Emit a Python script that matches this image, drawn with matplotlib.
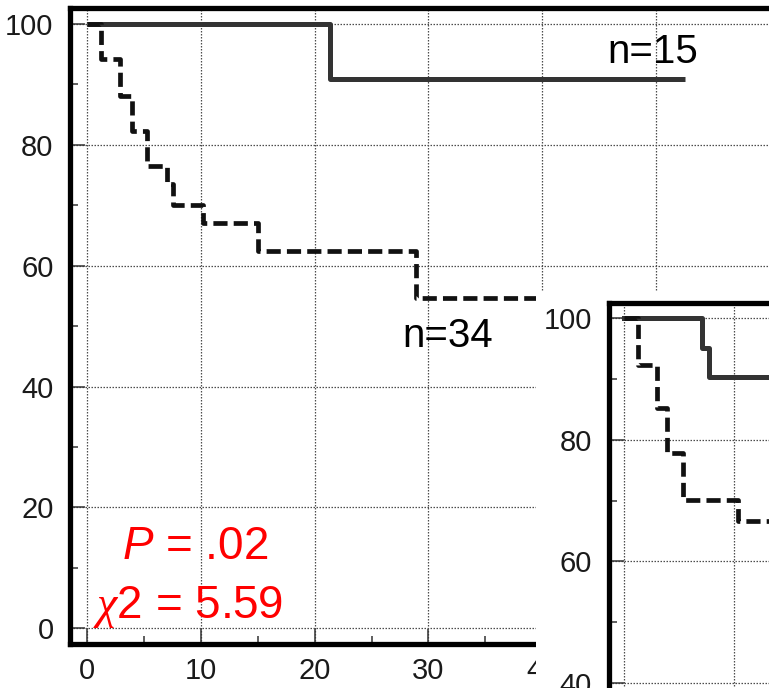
import matplotlib
matplotlib.use('Agg')
import matplotlib.pyplot as plt
from matplotlib.patches import Rectangle
from matplotlib.ticker import MultipleLocator, FixedLocator

plt.rcParams['font.family'] = ['Liberation Sans', 'DejaVu Sans']
plt.rcParams['mathtext.fontset'] = 'custom'
plt.rcParams['mathtext.rm'] = 'Liberation Sans'
plt.rcParams['mathtext.it'] = 'Liberation Serif:italic'
plt.rcParams['mathtext.sf'] = 'Liberation Sans:italic'

# ---------------- data ----------------
# main panel
main_solid_t = [0, 21.35, 52.6]
main_solid_s = [100, 90.9, 90.9]
main_dash_t = [0, 1.2, 2.9, 3.9, 5.25, 7.0, 7.5, 10.15, 15.0, 28.9, 47.0]
main_dash_s = [100, 94.1, 88.1, 82.2, 76.5, 73.5, 70.1, 67.0, 62.4, 54.6, 54.6]
main_x_ticks = [0, 10, 20, 30, 40, 50]
main_n_labels = ["n=15", "n=34"]
stat_labels = [r"$\mathsf{P}$ = .02", r"$\chi$2 = 5.59"]

# inset panel
inset_solid_t = [0, 7.1, 7.7, 30]
inset_solid_s = [100, 95.1, 90.3, 90.3]
inset_dash_t = [0, 1.27, 3.0, 3.9, 5.36, 10.3, 30]
inset_dash_s = [100, 92.3, 85.2, 77.8, 70.1, 66.7, 66.7]
inset_x_ticks = [0, 10, 20]
inset_y_ticks = [40, 60, 80, 100]

x_minor = 5
y_major = 20
y_minor = 10

# ---------------- layout ----------------
W, H = 769, 688
fig = plt.figure(figsize=(W / 100, H / 100), dpi=100)


def px_box(left, top, right, bottom):
    return [left / W, 1 - bottom / H, (right - left) / W, (bottom - top) / H]


def style(ax, xt):
    for s in ax.spines.values():
        s.set_linewidth(3.8)
        s.set_color('black')
    ax.xaxis.set_major_locator(FixedLocator(xt))
    ax.xaxis.set_minor_locator(MultipleLocator(x_minor))
    ax.yaxis.set_major_locator(MultipleLocator(y_major))
    ax.yaxis.set_minor_locator(MultipleLocator(y_minor))
    ax.tick_params(which='major', direction='in', length=11, width=1.1,
                   color='#333333', labelsize=21, labelcolor='#1a1a1a')
    ax.tick_params(which='minor', direction='in', length=6, width=1.1,
                   color='#333333')
    ax.tick_params(axis='y', pad=12)
    ax.tick_params(axis='x', pad=10)
    ax.grid(which='major', linestyle=(0, (1.2, 1.2)), linewidth=0.9,
            color='#4d4d4d')
    ax.set_axisbelow(True)


# main axes
ax = fig.add_axes(px_box(70.2, 7.5, 883.2, 643.5))
style(ax, main_x_ticks)
ax.set_xlim(-1.5, 70)
ax.set_ylim(-2.5, 102.7)
ax.plot(main_solid_t, main_solid_s, drawstyle='steps-post', color='#333333',
        lw=3.6, solid_capstyle='butt', zorder=3)
ax.plot(main_dash_t, main_dash_s, drawstyle='steps-post', color='#111111',
        lw=3.4, dashes=(3.0, 1.3), zorder=4)
ax.text(45.7, 93.5, main_n_labels[0], fontsize=29, color='black',
        ha='left', va='baseline')
ax.text(27.7, 46.5, main_n_labels[1], fontsize=29, color='black',
        ha='left', va='baseline')
ax.text(3.05, 11.4, stat_labels[0], fontsize=33, color='#ff0000',
        ha='left', va='baseline')
ax.text(0.5, 1.8, stat_labels[1], fontsize=33, color='#ff0000',
        ha='left', va='baseline')

# white box under the inset
fig.add_artist(Rectangle((536 / W, 0), 1 - 536 / W, (H - 291) / H,
                         transform=fig.transFigure, facecolor='white',
                         edgecolor='none', zorder=1))

# inset axes
ax2 = fig.add_axes(px_box(608.5, 303, 954.3, 926.3))
ax2.set_zorder(2)
style(ax2, inset_x_ticks)
ax2.yaxis.set_major_locator(FixedLocator(inset_y_ticks))
ax2.tick_params(axis='x', labelbottom=False)
ax2.set_xlim(-1.44, 30)
ax2.set_ylim(0, 102.5)
ax2.plot(inset_solid_t, inset_solid_s, drawstyle='steps-post',
         color='#333333', lw=3.6, zorder=3)
ax2.plot(inset_dash_t, inset_dash_s, drawstyle='steps-post', color='#111111',
         lw=3.4, dashes=(3.0, 1.3), zorder=4)

fig.savefig('out.png', dpi=100)
